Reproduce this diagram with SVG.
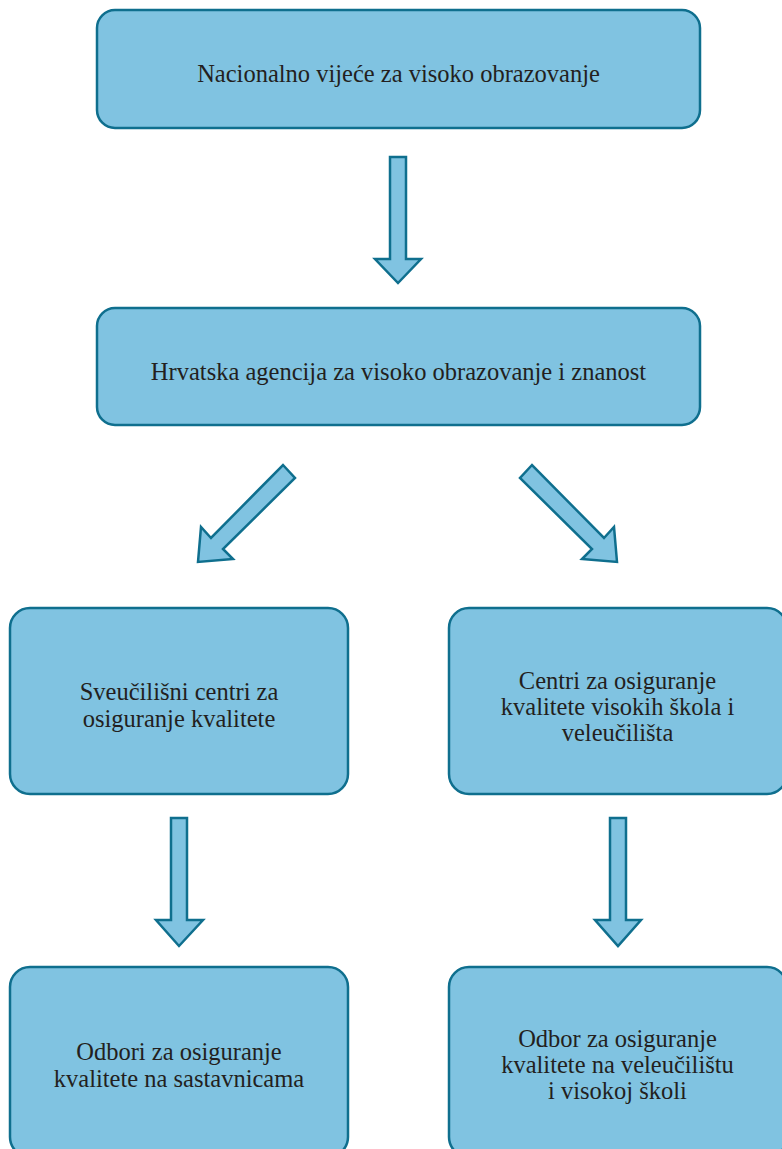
<svg xmlns="http://www.w3.org/2000/svg" width="782" height="1149" viewBox="0 0 782 1149">
<style>
.box{fill:#80C3E1;stroke:#0F6F8E;stroke-width:2.5}
.arr{fill:#80C3E1;stroke:#0F6F8E;stroke-width:2.5;stroke-linejoin:miter}
text{font-family:"Liberation Serif","Times New Roman",serif;font-size:24.5px;fill:#231F20;text-anchor:middle}
</style>
<rect width="782" height="1149" fill="#FFFFFF"/>
<g id="connectors">
<polygon class="arr" points="390,157 406,157 406,259 421,259 398,283 375,259 390,259"/>
<polygon class="arr" points="283,465 295,478 223,549 233,559 198,562 201,527 211,538"/>
<polygon class="arr" points="532,465 520,478 592,549 582,559 617,562 614,527 604,538"/>
<polygon class="arr" points="171,818 187,818 187,920 203,920 179,946 156,920 171,920"/>
<polygon class="arr" points="610,818 626,818 626,920 641,920 618,946 595,920 610,920"/>
</g>
<g id="n1">
<rect class="box" x="97" y="10" width="603" height="118" rx="18"/>
<text x="398.5" y="82">Nacionalno vijeće za visoko obrazovanje</text>
</g>
<g id="n2">
<rect class="box" x="97" y="308" width="603" height="117" rx="18"/>
<text x="398.5" y="380">Hrvatska agencija za visoko obrazovanje i znanost</text>
</g>
<g id="n3">
<rect class="box" x="10" y="608" width="338" height="186" rx="20"/>
<text x="179" y="700">Sveučilišni centri za</text>
<text x="179" y="727">osiguranje kvalitete</text>
</g>
<g id="n4">
<rect class="box" x="449" y="608" width="338" height="186" rx="20"/>
<text x="617.5" y="689">Centri za osiguranje</text>
<text x="617.5" y="715">kvalitete visokih škola i</text>
<text x="617.5" y="741">veleučilišta</text>
</g>
<g id="n5">
<rect class="box" x="10" y="967" width="338" height="190" rx="20"/>
<text x="179" y="1060">Odbori za osiguranje</text>
<text x="179" y="1087">kvalitete na sastavnicama</text>
</g>
<g id="n6">
<rect class="box" x="449" y="967" width="338" height="190" rx="20"/>
<text x="617.5" y="1047">Odbor za osiguranje</text>
<text x="617.5" y="1073">kvalitete na veleučilištu</text>
<text x="617.5" y="1099">i visokoj školi</text>
</g>
</svg>
